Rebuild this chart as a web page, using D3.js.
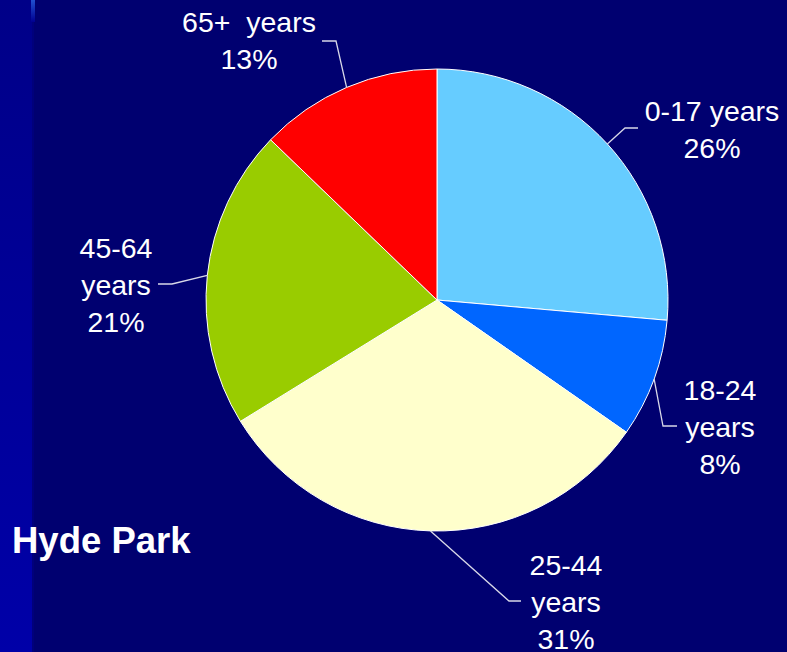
<!DOCTYPE html>
<html><head><meta charset="utf-8">
<script src="https://cdn.jsdelivr.net/npm/d3@7"></script>
<style>html,body{margin:0;padding:0;background:#000070;overflow:hidden}</style>
</head><body>
<svg id="c" width="787" height="652"></svg>
<script>
// Data
const categories = ["0-17 years", "18-24 years", "25-44 years", "45-64 years", "65+ years"];
const shares = [26.4, 8.3, 31.5, 21.0, 12.8];
const percentLabels = ["26%", "8%", "31%", "21%", "13%"];
const labelLines = [["0-17 years", "26%"], ["18-24", "years", "8%"], ["25-44", "years", "31%"], ["45-64", "years", "21%"], ["65+  years", "13%"]];
const colors = ["#66CCFF", "#0066FF", "#FFFFCC", "#99CC00", "#FF0000"];
const title = "Hyde Park";

// Layout
const W = 787, H = 652, cx = 437, cy = 300, R = 231;
const labelPos = [[712, 121], [720, 400], [566, 575], [116, 258], [249, 32]];
const lineGap = 37;
const elbows = [[[625, 128], [638, 128]], [[663, 426], [677, 426]], [[509, 601], [521, 601]], [[172, 284], [158, 284]], [[336, 41], [322, 41]]];

const svg = d3.select("#c");
const defs = svg.append("defs");
const g1 = defs.append("linearGradient").attr("id", "strip").attr("x1", 0).attr("y1", 0).attr("x2", 0).attr("y2", 1);
g1.append("stop").attr("offset", 0).attr("stop-color", "#000088");
g1.append("stop").attr("offset", 1).attr("stop-color", "#0000A8");
const g2 = defs.append("linearGradient").attr("id", "hl").attr("x1", 0).attr("y1", 0).attr("x2", 0).attr("y2", 1);
g2.append("stop").attr("offset", 0).attr("stop-color", "#2050D0");
g2.append("stop").attr("offset", 1).attr("stop-color", "#000090");

svg.append("rect").attr("width", W).attr("height", H).attr("fill", "#000070");
svg.append("rect").attr("x", 0).attr("y", 0).attr("width", 32).attr("height", H).attr("fill", "url(#strip)");
svg.append("rect").attr("x", 31).attr("y", 0).attr("width", 4).attr("height", 22).attr("fill", "url(#hl)");
svg.append("rect").attr("x", 32).attr("y", 22).attr("width", 2).attr("height", H - 22).attr("fill", "#00007C");

const pie = d3.pie().sort(null).value(d => d)(shares);
const arc = d3.arc().innerRadius(0).outerRadius(R);
const gp = svg.append("g").attr("transform", `translate(${cx},${cy})`);
gp.selectAll("path").data(pie).join("path")
  .attr("d", arc).attr("fill", (d, i) => colors[i])
  .attr("stroke", "#ffffff").attr("stroke-width", 1);

// leader lines
const edge = d3.arc().innerRadius(R).outerRadius(R);
pie.forEach((d, i) => {
  const [ex, ey] = edge.centroid(d);
  const pts = [[cx + ex, cy + ey], ...elbows[i]];
  svg.append("path").attr("d", d3.line()(pts)).attr("fill", "none")
    .attr("stroke", "#D8D8E8").attr("stroke-width", 1.3);
});

// labels
labelLines.forEach((lines, i) => {
  const t = svg.append("text").attr("text-anchor", "middle")
    .attr("font-family", "'Liberation Sans', Arial, sans-serif").attr("font-size", 28.5)
    .attr("fill", "#ffffff").attr("xml:space", "preserve").style("white-space", "pre");
  lines.forEach((l, j) => {
    t.append("tspan").attr("x", labelPos[i][0]).attr("y", labelPos[i][1] + j * lineGap).text(l);
  });
});

svg.append("text").attr("x", 12).attr("y", 553)
  .attr("font-family", "'Liberation Sans', Arial, sans-serif").attr("font-size", 36.5)
  .attr("font-weight", "bold").attr("fill", "#ffffff").text(title);
</script>
</body></html>
